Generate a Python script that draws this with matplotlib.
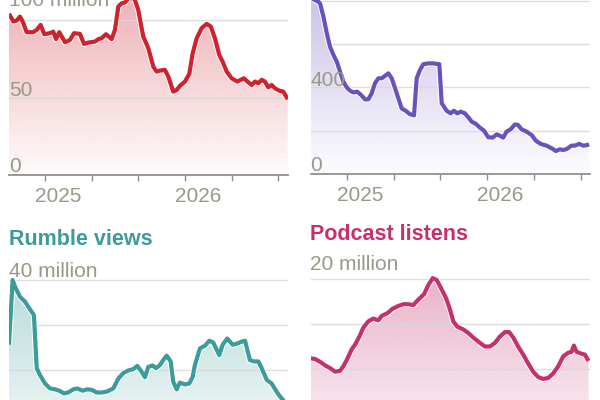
import matplotlib
matplotlib.use('Agg')

import matplotlib.pyplot as plt
import matplotlib.colors as mcolors
import matplotlib.patheffects as pe
import numpy as np

plt.rcParams['font.family'] = ['Liberation Sans', 'DejaVu Sans']

#-- data (x in fractional years) --#
red_x = [2024.743, 2024.774, 2024.798, 2024.821, 2024.841, 2024.869, 2024.916, 2024.941, 2024.969, 2024.995,
         2025.036, 2025.059, 2025.079, 2025.102, 2025.143, 2025.179, 2025.207, 2025.25, 2025.279, 2025.309,
         2025.357, 2025.381, 2025.405, 2025.436, 2025.476, 2025.5, 2025.524, 2025.548, 2025.571, 2025.614,
         2025.643, 2025.666, 2025.702, 2025.738, 2025.774, 2025.798, 2025.821, 2025.857, 2025.881, 2025.916,
         2025.941, 2025.964, 2026.0, 2026.031, 2026.055, 2026.084, 2026.119, 2026.155, 2026.184, 2026.214,
         2026.245, 2026.269, 2026.298, 2026.334, 2026.374, 2026.421, 2026.452, 2026.476, 2026.5, 2026.524,
         2026.548, 2026.571, 2026.595, 2026.619, 2026.643, 2026.674, 2026.702, 2026.734]
red_y = [104.2, 99.2, 99.8, 102.4, 99.2, 92.3, 92.3, 93.8, 97.0, 91.0,
         91.7, 92.7, 87.8, 92.3, 85.8, 87.3, 91.7, 91.2, 84.7, 85.6,
         86.2, 87.8, 88.4, 91.0, 87.8, 93.8, 108.9, 111.0, 111.5, 116.0,
         113.0, 106.8, 89.5, 82.0, 70.0, 66.8, 67.5, 67.9, 63.6, 53.9,
         55.0, 57.6, 60.4, 65.3, 78.7, 88.4, 94.9, 97.7, 96.0, 88.4,
         77.6, 73.3, 66.8, 62.5, 60.4, 62.5, 60.0, 58.2, 60.4, 59.3,
         61.5, 60.4, 56.7, 58.2, 56.0, 54.5, 53.9, 49.0]

purple_x = [2024.746, 2024.798, 2024.810, 2024.834, 2024.858, 2024.881, 2024.905, 2024.929, 2024.952, 2024.976,
            2025.0, 2025.023, 2025.047, 2025.075, 2025.102, 2025.130, 2025.154, 2025.178, 2025.201, 2025.225,
            2025.249, 2025.272, 2025.296, 2025.320, 2025.344, 2025.367, 2025.391, 2025.422, 2025.450, 2025.479,
            2025.498, 2025.521, 2025.545, 2025.580, 2025.616, 2025.659, 2025.676, 2025.711, 2025.740, 2025.763,
            2025.787, 2025.811, 2025.841, 2025.865, 2025.889, 2025.920, 2025.948, 2025.977, 2026.007, 2026.038,
            2026.067, 2026.090, 2026.114, 2026.138, 2026.166, 2026.197, 2026.220, 2026.245, 2026.280, 2026.316,
            2026.346, 2026.380, 2026.422, 2026.458, 2026.489, 2026.517, 2026.541, 2026.565, 2026.600, 2026.624,
            2026.654, 2026.683, 2026.707, 2026.725]
purple_y = [812, 796, 788, 727, 650, 588, 550, 519, 473, 426,
            400, 385, 377, 380, 365, 345, 345, 373, 419, 442,
            442, 453, 465, 442, 396, 350, 303, 291, 276, 271,
            442, 480, 507, 511, 511, 507, 327, 292, 280, 292,
            280, 288, 280, 262, 242, 231, 214, 200, 170, 168,
            183, 177, 168, 196, 206, 229, 226, 206, 196, 180,
            154, 139, 131, 119, 106, 114, 111, 115, 131, 131,
            139, 131, 133, 137]

rumble_x = [2024.743, 2024.769, 2024.786, 2024.821, 2024.857, 2024.888, 2024.921, 2024.941, 2024.964, 2025.0,
            2025.036, 2025.071, 2025.102, 2025.136, 2025.166, 2025.202, 2025.231, 2025.269, 2025.302, 2025.334,
            2025.369, 2025.405, 2025.441, 2025.488, 2025.524, 2025.559, 2025.595, 2025.631, 2025.659, 2025.684,
            2025.714, 2025.738, 2025.769, 2025.793, 2025.821, 2025.845, 2025.869, 2025.898, 2025.916, 2025.941,
            2025.964, 2026.0, 2026.031, 2026.055, 2026.071, 2026.107, 2026.143, 2026.174, 2026.202, 2026.245,
            2026.269, 2026.302, 2026.341, 2026.374, 2026.405, 2026.429, 2026.464, 2026.493, 2026.524, 2026.548,
            2026.584, 2026.619, 2026.65, 2026.679, 2026.702, 2026.734]
rumble_y = [25.6, 40.0, 38.5, 36.3, 35.2, 33.7, 32.2, 20.4, 18.9, 17.0,
            15.9, 15.7, 15.4, 14.8, 15.0, 15.7, 15.9, 15.4, 15.7, 15.6,
            15.0, 15.0, 15.2, 15.9, 18.1, 19.3, 19.9, 20.2, 20.9, 19.9,
            18.4, 20.7, 21.0, 20.4, 21.1, 22.2, 23.2, 21.9, 17.4, 15.7,
            17.2, 16.8, 17.0, 18.5, 21.1, 24.8, 25.4, 26.5, 26.1, 23.3,
            25.6, 27.0, 25.6, 25.9, 26.3, 26.5, 22.2, 21.9, 21.9, 20.4,
            17.8, 17.0, 15.4, 14.1, 13.3, 11.5]

podcast_x = [2024.739, 2024.775, 2024.810, 2024.846, 2024.881, 2024.917, 2024.952, 2024.976, 2025.0, 2025.036,
             2025.059, 2025.090, 2025.118, 2025.154, 2025.189, 2025.225, 2025.249, 2025.289, 2025.327, 2025.367,
             2025.403, 2025.438, 2025.474, 2025.509, 2025.550, 2025.580, 2025.612, 2025.640, 2025.664, 2025.706,
             2025.735, 2025.758, 2025.787, 2025.829, 2025.865, 2025.900, 2025.948, 2025.984, 2026.019, 2026.055,
             2026.090, 2026.126, 2026.156, 2026.185, 2026.220, 2026.256, 2026.292, 2026.327, 2026.363, 2026.398,
             2026.434, 2026.469, 2026.505, 2026.541, 2026.576, 2026.600, 2026.617, 2026.636, 2026.671, 2026.695,
             2026.721]
podcast_y = [11.2, 11.1, 10.8, 10.4, 10.1, 9.7, 9.8, 10.3, 11.0, 12.2,
             12.7, 13.6, 14.6, 15.3, 15.6, 15.4, 15.9, 16.2, 16.7, 17.0,
             17.2, 17.2, 17.1, 17.7, 18.3, 19.3, 20.1, 19.9, 19.2, 17.9,
             16.6, 15.3, 14.7, 14.4, 14.0, 13.5, 12.9, 12.5, 12.5, 12.9,
             13.6, 14.1, 14.1, 13.5, 12.5, 11.6, 10.6, 9.7, 9.1, 8.9,
             9.0, 9.5, 10.3, 11.4, 11.8, 11.9, 12.6, 11.9, 11.7, 11.6,
             10.9]

TICKS = [2025, 2025 + 1/3, 2025 + 2/3, 2026, 2026 + 1/3, 2026 + 2/3]
YEARS = [2025, 2026]
GRAY = '#9a9888'

W, H = 600, 400
fig = plt.figure(figsize=(6, 4), dpi=100)


def panel(left, base, width, px_per_unit, xlim, ymax, x, y, color, grid, year_labels=True):
    height = ymax * px_per_unit
    ax = fig.add_axes([left / W, 1 - base / H, width / W, height / H])
    # gradient fill under the line
    rgba = np.zeros((256, 1, 4))
    rgba[..., :3] = mcolors.to_rgb(color)
    rgba[..., 3] = np.linspace(0.02, 0.38, 256).reshape(-1, 1)
    im = ax.imshow(rgba, extent=[xlim[0], xlim[1], 0, ymax], origin='lower',
                   aspect='auto', zorder=1, interpolation='bilinear')
    poly = ax.fill_between(x, y, 0, color='none', lw=0)
    im.set_clip_path(poly.get_paths()[0], transform=ax.transData)
    for g in grid:
        ax.axhline(g, color='#d9d9d9', lw=1.0, alpha=0.85, zorder=2)
    ax.plot(x, y, color=color, lw=3.0, zorder=3, solid_joinstyle='round',
            solid_capstyle='butt',
            path_effects=[pe.Stroke(linewidth=4.4, foreground='white'), pe.Normal()])
    ax.set_xlim(*xlim)
    ax.set_ylim(0, ymax)
    for s in ['top', 'left', 'right']:
        ax.spines[s].set_visible(False)
    ax.spines['bottom'].set_color('#8f8f8f')
    ax.spines['bottom'].set_linewidth(1.3)
    ax.set_yticks([])
    ax.set_xticks(TICKS)
    ax.set_xticklabels([])
    ax.tick_params(axis='x', length=4, width=1, color='#8f8f8f', direction='out')
    if year_labels:
        for yr in YEARS:
            ax.annotate(str(yr), (yr, 0), xytext=(13, -26.5), textcoords='offset pixels',
                        ha='center', va='baseline', fontsize=15, color=GRAY)
    return ax


panel(9, 175, 279, 1.547, (2024.743, 2026.736), 125, red_x, red_y, '#d0222d', [50, 100])
panel(310.5, 174, 279, 0.2165, (2024.742, 2026.728), 900, purple_x, purple_y, '#6a52be', [200, 400, 600, 800])
# lower row: its x axis sits below the visible area
panel(9, 460, 279, 4.5, (2024.743, 2026.736), 41, rumble_x, rumble_y, '#3b9c9a', [10, 20, 30, 40], False)
panel(310.5, 459, 279, 9.0, (2024.742, 2026.728), 20.5, podcast_x, podcast_y, '#c5306f', [5, 10, 15, 20], False)


def label(xp, yp, s, **kw):
    fig.text(xp / W, 1 - yp / H, s, ha='left', va='baseline', **kw)


#-- axis labels --#
label(9, 6, '100 million', fontsize=15, color=GRAY)
label(9, 95.5, '50', fontsize=15, color=GRAY)
label(9, 172, '0', fontsize=15, color=GRAY)
label(310.5, 86, '400', fontsize=15, color=GRAY)
label(310.5, 171, '0', fontsize=15, color=GRAY)

#-- titles --#
label(9, 245, 'Rumble views', fontsize=15.5, fontweight='bold', color='#3b9c9a')
label(9, 277, '40 million', fontsize=15, color=GRAY)
label(309.5, 240, 'Podcast listens', fontsize=15.5, fontweight='bold', color='#c5306f')
label(310.5, 270.5, '20 million', fontsize=15, color=GRAY)

plt.savefig('out.png', dpi=100)
